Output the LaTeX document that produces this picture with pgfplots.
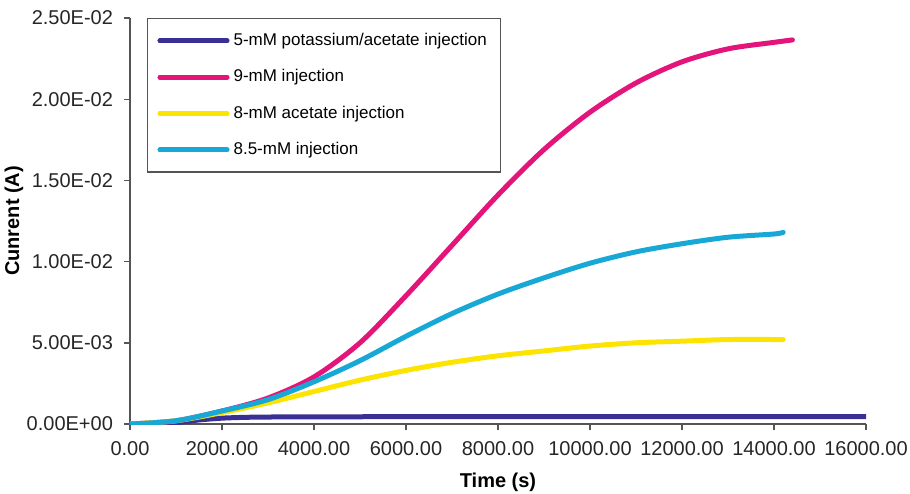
\documentclass[border=0pt]{standalone}
\usepackage{pgfplots}
\pgfplotsset{compat=1.18}
\usepackage{fontspec}
\setmainfont{Liberation Sans}
\definecolor{cblue}{HTML}{3A2F94}
\definecolor{cpink}{HTML}{E3157A}
\definecolor{cyell}{HTML}{FCE300}
\definecolor{ccyan}{HTML}{18A8D6}
\definecolor{axgray}{HTML}{555555}
\begin{document}
\begin{tikzpicture}
\begin{axis}[
  name=ax,
  scale only axis,
  width=368pt, height=203pt,
  xmin=0, xmax=16000, ymin=0, ymax=0.025,
  scaled ticks=false,
  axis x line*=bottom, axis y line*=left,
  axis line style={-, draw=axgray, line width=0.8pt},
  tick style={draw=axgray, line width=0.7pt},
  tick align=outside,
  major tick length=3pt,
  xtick={0,2000,...,16000},
  xticklabels={0.00,2000.00,4000.00,6000.00,8000.00,10000.00,12000.00,14000.00,16000.00},
  ytick={0,0.005,0.01,0.015,0.02,0.025},
  yticklabels={0.00E+00,5.00E-03,1.00E-02,1.50E-02,2.00E-02,2.50E-02},
  ticklabel style={font=\fontsize{10}{12}\selectfont, text=black!85},
  xticklabel style={yshift=-2pt},
  yticklabel style={xshift=-2pt},
  xlabel={\textbf{Time (s)}},
  ylabel={\textbf{Cunrent (A)}},
  label style={font=\fontsize{9.5}{11}\selectfont},
  every axis x label/.style={at={(rel axis cs:0.5,0)}, yshift=-29pt, anchor=center},
  every axis y label/.style={at={(rel axis cs:0,0.5)}, xshift=-58pt, rotate=90, anchor=center},
  legend style={at={(8.5/368,1)}, anchor=north west,
    draw=axgray, line width=0.6pt, font=\fontsize{8.5}{10}\selectfont,
    inner xsep=5pt, inner ysep=5.3pt, row sep=6.5pt},
  legend cell align=left,
  legend image code/.code={\draw[#1, line width=2.5pt] (0pt,0pt) -- (27pt,0pt); \path (0pt,0pt) -- (33.5pt,0pt);},
  every axis plot/.append style={line width=2.5pt, line cap=round},
]
\addplot[cblue, smooth] coordinates {
(0,0) (600,0.00001) (1000,0.00008) (1500,0.00025) (2000,0.00036) (2500,0.00041) (3000,0.00043) (4000,0.00044) (6000,0.00045) (10000,0.00045) (14000,0.00046) (16000,0.00046)};
\addlegendentry{5-mM potassium/acetate injection}
\addplot[cpink, smooth] coordinates {
(0,0) (1000,0.0002) (2000,0.0008) (3000,0.0016) (4000,0.0029) (5000,0.0050) (6000,0.0079) (7000,0.0110) (8000,0.0141) (9000,0.0169) (10000,0.0192) (11000,0.0210) (12000,0.0223) (13000,0.0231) (14000,0.0235) (14400,0.02365)};
\addlegendentry{9-mM injection}
\addplot[cyell, smooth] coordinates {
(0,0) (1000,0.0002) (2000,0.0007) (3000,0.0013) (4000,0.0020) (5000,0.0027) (6000,0.0033) (7000,0.0038) (8000,0.0042) (9000,0.0045) (10000,0.0048) (11000,0.0050) (12000,0.0051) (13000,0.0052) (14200,0.0052)};
\addlegendentry{8-mM acetate injection}
\addplot[ccyan, smooth] coordinates {
(0,0) (1000,0.0002) (2000,0.0008) (3000,0.0015) (4000,0.0026) (5000,0.0039) (6000,0.0054) (7000,0.0068) (8000,0.0080) (9000,0.0090) (10000,0.0099) (11000,0.0106) (12000,0.0111) (13000,0.0115) (14000,0.0117) (14200,0.0118)};
\addlegendentry{8.5-mM injection}
\end{axis}
\pgfresetboundingbox
\path ([shift={(-65pt,-34.5pt)}]ax.south west) rectangle ([shift={(22pt,9pt)}]ax.north east);
\end{tikzpicture}
\end{document}
